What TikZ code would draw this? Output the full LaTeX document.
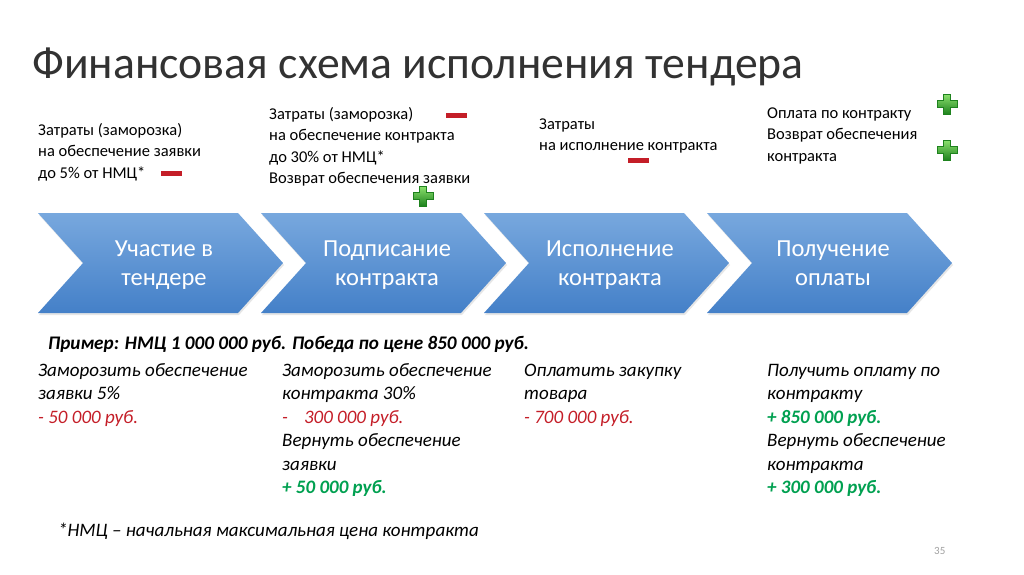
\documentclass[tikz,border=0pt]{standalone}
\usepackage{fontspec}
\setmainfont{Carlito}
\usepackage{xcolor}
\usepackage{tikz}
\usetikzlibrary{shapes.symbols, positioning, shadows}
\definecolor{chevtop}{RGB}{120,168,222}
\definecolor{chevbot}{RGB}{68,128,200}
\definecolor{myred}{RGB}{196,30,40}
\definecolor{mygreen}{RGB}{0,160,80}
\definecolor{mydark}{RGB}{50,50,50}
\definecolor{numgray}{RGB}{160,160,160}
\definecolor{plusdark}{RGB}{30,130,30}
\definecolor{pluslight}{RGB}{140,225,110}
\tikzset{
  chev/.style={signal, signal to=east, signal from=west, signal pointer angle=96,
    minimum width=245pt, minimum height=100pt, inner sep=0pt,
    top color=chevtop, bottom color=chevbot, text=white,
    text width=150pt, align=center, font=\fontsize{24.5}{29}\selectfont,
    drop shadow={opacity=0.2, shadow xshift=1pt, shadow yshift=-2pt}},
  chevlabel/.style={align=center, inner sep=0pt, text=white,
    font=\fontsize{24.5}{29}\selectfont},
  costtext/.style={anchor=base west, align=left, inner sep=0pt,
    font=\fontsize{16.5}{21.5}\selectfont, text=black},
  stepnote/.style={anchor=base west, align=left, inner sep=0pt,
    font=\fontsize{19}{23.5}\selectfont\itshape, text=black},
  minus/.style={rectangle, fill=myred, minimum width=21pt, minimum height=5pt, inner sep=0pt},
  plusicon/.pic={
    \fill[top color=pluslight, bottom color=plusdark, draw=plusdark, line width=0.5pt]
      (-3.5,-10) -- (3.5,-10) -- (3.5,-3.5) -- (10,-3.5) -- (10,3.5) -- (3.5,3.5)
      -- (3.5,10) -- (-3.5,10) -- (-3.5,3.5) -- (-10,3.5) -- (-10,-3.5) -- (-3.5,-3.5) -- cycle;
  }
}
\newcommand{\minusamt}[1]{\textcolor{myred}{#1}}
\newcommand{\plusamt}[1]{\textcolor{mygreen}{\bfseries #1}}

\begin{document}
\begin{tikzpicture}[x=1pt, y=-1pt]
  \useasboundingbox (0,0) rectangle (1024,574);

  % Title
  \node[anchor=base west, inner sep=0pt, text=mydark, font=\fontsize{45.7}{52}\selectfont]
    (title) at (32,78) {Финансовая схема исполнения тендера};

  % Costs above the stages (anchored at the last line)
  \node[costtext] (cost1) at (38,178) {Затраты (заморозка)\\на обеспечение заявки\\до 5\% от НМЦ*};
  \node[minus] (minus1) at (171,173) {};
  \node[costtext] (cost2) at (269,183.5) {Затраты (заморозка)\\на обеспечение контракта\\до 30\% от НМЦ*\\Возврат обеспечения заявки};
  \node[minus] (minus2) at (456,115) {};
  \pic at (423,196) {plusicon};
  \node[costtext] (cost3) at (539,150.5) {Затраты\\на исполнение контракта};
  \node[minus] (minus3) at (638,160) {};
  \node[costtext] (cost4) at (767,161) {Оплата по контракту\\Возврат обеспечения\\контракта};
  \pic at (947,104) {plusicon};
  \pic at (947,150) {plusicon};

  % Stages
  \node[chev] (tender) at (160.5,263) {};
  \node[chev] (sign) at (383.5,263) {};
  \node[chev] (exec) at (606.5,263) {};
  \node[chev] (pay) at (829.5,263) {};
  \node[chevlabel] (tenderlbl) at (164,265) {Участие в\strut\\тендере\strut};
  \node[chevlabel] (signlbl) at (387,265) {Подписание\strut\\контракта\strut};
  \node[chevlabel] (execlbl) at (610,265) {Исполнение\strut\\контракта\strut};
  \node[chevlabel] (paylbl) at (833,265) {Получение\strut\\оплаты\strut};

  % Example
  \node[anchor=base west, inner sep=0pt, font=\fontsize{19.2}{22}\selectfont\bfseries\itshape]
    (example) at (48,349) {Пример: НМЦ 1 000 000 руб. Победа по цене 850 000 руб.};
  \node[stepnote] (note1) at (38,423) {Заморозить обеспечение\\заявки 5\%\\\minusamt{- 50 000 руб.}};
  \node[stepnote] (note2) at (282,493.5) {Заморозить обеспечение\\контракта 30\%\\\minusamt{-\hspace{16pt}300 000 руб.}\\Вернуть обеспечение\\заявки\\\plusamt{+ 50 000 руб.}};
  \node[stepnote] (note3) at (524,423) {Оплатить закупку\\товара\\\minusamt{- 700 000 руб.}};
  \node[stepnote] (note4) at (767,493.5) {Получить оплату по\\контракту\\\plusamt{+ 850 000 руб.}\\Вернуть обеспечение\\контракта\\\plusamt{+ 300 000 руб.}};

  % Footnote
  \node[anchor=base west, inner sep=0pt, font=\fontsize{19}{22}\selectfont\itshape]
    (footnote) at (58,536) {*НМЦ -- начальная максимальная цена контракта};
  \node[anchor=base west, inner sep=0pt, text=numgray, font=\fontsize{11}{13}\selectfont]
    (pagenum) at (934,554) {35};
\end{tikzpicture}
\end{document}
